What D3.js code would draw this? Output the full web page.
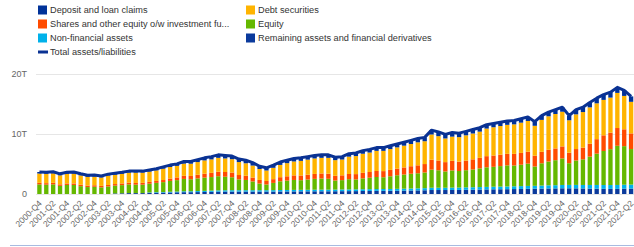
<!DOCTYPE html>
<html>
<head>
<meta charset="utf-8">
<script src="https://cdn.jsdelivr.net/npm/d3@7"></script>
<style>
body{margin:0;background:#fff;}
svg{display:block;font-family:"Liberation Sans",Arial,sans-serif;}
</style>
</head>
<body>
<svg id="chart"></svg>
<script>
var quarters=["2000-Q4","2001-Q1","2001-Q2","2001-Q3","2001-Q4","2002-Q1","2002-Q2","2002-Q3","2002-Q4",
"2003-Q1","2003-Q2","2003-Q3","2003-Q4","2004-Q1","2004-Q2","2004-Q3","2004-Q4",
"2005-Q1","2005-Q2","2005-Q3","2005-Q4","2006-Q1","2006-Q2","2006-Q3","2006-Q4",
"2007-Q1","2007-Q2","2007-Q3","2007-Q4","2008-Q1","2008-Q2","2008-Q3","2008-Q4",
"2009-Q1","2009-Q2","2009-Q3","2009-Q4","2010-Q1","2010-Q2","2010-Q3","2010-Q4",
"2011-Q1","2011-Q2","2011-Q3","2011-Q4","2012-Q1","2012-Q2","2012-Q3","2012-Q4",
"2013-Q1","2013-Q2","2013-Q3","2013-Q4","2014-Q1","2014-Q2","2014-Q3","2014-Q4",
"2015-Q1","2015-Q2","2015-Q3","2015-Q4","2016-Q1","2016-Q2","2016-Q3","2016-Q4",
"2017-Q1","2017-Q2","2017-Q3","2017-Q4","2018-Q1","2018-Q2","2018-Q3","2018-Q4",
"2019-Q1","2019-Q2","2019-Q3","2019-Q4","2020-Q1","2020-Q2","2020-Q3","2020-Q4",
"2021-Q1","2021-Q2","2021-Q3","2021-Q4","2022-Q1","2022-Q2"];

// trillions
var remaining=[0,0,0,0,0,0,0,0,0,0,0,0.10,0.12,0.15,0.15,0.15,0.18,0.20,0.22,0.25,0.28,0.30,0.30,0.32,0.34,
0.36,0.38,0.40,0.40,0.40,0.40,0.40,0.40,0.40,0.40,0.42,0.42,0.43,0.44,0.44,0.45,0.45,0.45,0.46,0.47,0.48,0.48,
0.50,0.50,0.52,0.52,0.53,0.54,0.56,0.58,0.60,0.62,0.66,0.66,0.66,0.67,0.68,0.70,0.72,0.74,0.76,0.78,0.79,0.80,
0.82,0.84,0.86,0.88,0.90,0.92,0.93,0.95,0.95,0.94,0.92,0.90,0.88,0.86,0.85,0.85,0.88,0.90];
var nonFinancial=[0,0,0,0,0,0,0,0,0,0,0,0,0,0,0,0,0.08,0.10,0.10,0.12,0.12,0.15,0.15,0.17,0.18,
0.20,0.22,0.22,0.23,0.23,0.23,0.23,0.23,0.23,0.24,0.24,0.25,0.25,0.25,0.26,0.26,0.27,0.27,0.27,0.28,0.28,0.29,
0.29,0.30,0.30,0.31,0.31,0.32,0.32,0.33,0.34,0.35,0.38,0.38,0.38,0.39,0.39,0.40,0.40,0.41,0.42,0.43,0.44,0.45,
0.46,0.47,0.48,0.48,0.50,0.52,0.53,0.55,0.56,0.57,0.58,0.60,0.62,0.63,0.64,0.65,0.66,0.66];
var equity=[1.60,1.55,1.60,1.35,1.50,1.50,1.30,1.15,1.20,1.10,1.25,1.30,1.35,1.45,1.40,1.40,1.45,1.55,1.65,1.80,1.90,
2.05,2.00,2.10,2.20,2.25,2.35,2.25,2.15,1.80,1.70,1.45,1.10,0.95,1.20,1.45,1.55,1.65,1.60,1.70,1.80,1.85,1.80,
1.50,1.55,1.70,1.65,1.80,1.90,2.00,1.95,2.10,2.25,2.35,2.45,2.50,2.60,3.00,2.90,2.70,2.85,2.75,2.85,2.95,3.10,
3.25,3.30,3.40,3.50,3.45,3.55,3.70,3.20,3.70,3.95,4.15,4.40,3.60,4.05,4.25,4.70,5.20,5.65,5.95,6.50,6.40,5.90];
var shares=[0.25,0.25,0.25,0.25,0.25,0.25,0.25,0.25,0.25,0.25,0.25,0.25,0.28,0.28,0.28,0.30,0.30,0.32,0.35,0.40,0.45,
0.52,0.55,0.60,0.65,0.70,0.75,0.78,0.78,0.72,0.70,0.65,0.60,0.58,0.62,0.68,0.72,0.76,0.78,0.80,0.82,0.84,0.85,
0.80,0.80,0.86,0.88,0.92,0.95,1.00,1.02,1.06,1.10,1.18,1.25,1.32,1.40,1.65,1.62,1.55,1.60,1.55,1.60,1.68,1.75,
1.85,1.88,1.90,1.92,1.93,1.96,1.98,1.80,1.90,1.95,1.95,2.00,1.75,1.90,1.95,2.15,2.40,2.60,2.75,2.95,2.80,2.60];
var debt=[1.55,1.55,1.60,1.50,1.60,1.65,1.55,1.45,1.45,1.40,1.55,1.55,1.60,1.67,1.72,1.70,1.72,1.75,1.88,1.91,1.92,
2.02,2.02,2.11,2.20,2.23,2.30,2.25,2.22,2.15,2.07,1.99,1.82,1.74,1.89,2.04,2.18,2.31,2.43,2.50,2.57,2.59,2.63,
2.59,2.62,2.88,3.00,3.17,3.23,3.34,3.36,3.45,3.53,3.61,3.69,3.82,3.79,4.19,4.04,3.93,4.01,4.07,4.19,4.29,4.35,
4.58,4.69,4.75,4.81,4.90,5.02,5.10,4.96,5.30,5.56,5.72,5.76,5.38,5.76,5.90,6.03,5.95,5.88,5.81,5.83,5.54,5.24];
var deposits=[0.25,0.25,0.25,0.25,0.25,0.25,0.25,0.25,0.25,0.25,0.25,0.25,0.25,0.25,0.25,0.25,0.27,0.28,0.30,0.32,0.33,
0.36,0.38,0.40,0.43,0.46,0.50,0.50,0.52,0.50,0.50,0.48,0.45,0.45,0.45,0.47,0.48,0.50,0.50,0.50,0.50,0.50,0.50,
0.48,0.48,0.50,0.50,0.52,0.52,0.54,0.54,0.55,0.56,0.58,0.60,0.62,0.64,0.72,0.70,0.68,0.68,0.66,0.66,0.66,0.65,
0.64,0.62,0.62,0.62,0.64,0.66,0.68,0.68,0.70,0.70,0.72,0.74,0.76,0.78,0.80,0.82,0.85,0.88,0.90,0.92,0.92,0.90];
var total=[3.65,3.60,3.70,3.35,3.60,3.65,3.35,3.10,3.15,3.00,3.30,3.45,3.60,3.80,3.80,3.80,4.00,4.20,4.50,4.80,5.00,
5.40,5.40,5.70,6.00,6.20,6.50,6.40,6.30,5.80,5.60,5.20,4.60,4.35,4.80,5.30,5.60,5.90,6.00,6.20,6.40,6.50,6.50,
6.10,6.20,6.70,6.80,7.20,7.40,7.70,7.70,8.00,8.30,8.60,8.90,9.20,9.40,10.60,10.30,9.90,10.20,10.10,10.40,10.70,11.00,
11.50,11.70,11.90,12.10,12.20,12.50,12.80,12.00,13.00,13.60,14.00,14.40,13.00,14.00,14.40,15.20,15.90,16.50,16.90,17.70,17.20,16.20];
var yTicks=[0,10,20];

var seriesNames=["Deposit and loan claims","Debt securities","Shares and other equity o/w investment fu...","Equity","Non-financial assets","Remaining assets and financial derivatives"];
var colors={"Deposit and loan claims":"#003299","Debt securities":"#FFB400","Shares and other equity o/w investment fu...":"#FF4B00",
"Equity":"#65B800","Non-financial assets":"#00B1EA","Remaining assets and financial derivatives":"#0B3A9C"};

var width=634,height=247;
var svg=d3.select('#chart').attr('width',width).attr('height',height);

// table for the stack, bottom to top
var rows=quarters.map(function(q,i){
  return {q:q,
    "Remaining assets and financial derivatives":remaining[i],
    "Non-financial assets":nonFinancial[i],
    "Equity":equity[i],
    "Shares and other equity o/w investment fu...":shares[i],
    "Debt securities":debt[i],
    "Deposit and loan claims":deposits[i]};
});
var stackKeys=["Remaining assets and financial derivatives","Non-financial assets","Equity",
  "Shares and other equity o/w investment fu...","Debt securities","Deposit and loan claims"];
var stacked=d3.stack().keys(stackKeys)(rows);

var x=d3.scaleBand().domain(quarters).range([36,634.5]).paddingInner(0.37).paddingOuter(0.18);
var y=d3.scaleLinear().domain([0,20]).range([194,73.5]);

// grid
svg.append('g').selectAll('line').data(yTicks).enter().append('line')
  .attr('x1',36).attr('x2',width)
  .attr('y1',d=>Math.round(y(d))+0.5).attr('y2',d=>Math.round(y(d))+0.5)
  .attr('stroke','#e6e6e6').attr('stroke-width',1);

svg.append('g').selectAll('text').data(yTicks).enter().append('text')
  .attr('x',27).attr('y',d=>y(d)+3)
  .attr('text-anchor','end').attr('font-size','9px').attr('fill','#666')
  .text(d=>d===0?'0':d+'T');

// bars
svg.append('g').selectAll('g').data(stacked).enter().append('g')
  .attr('fill',d=>colors[d.key])
  .selectAll('rect').data(d=>d).enter().append('rect')
  .attr('x',d=>x(d.data.q))
  .attr('width',x.bandwidth())
  .attr('y',d=>y(d[1]))
  .attr('height',d=>Math.max(0,y(d[0])-y(d[1])));

// total line
var line=d3.line().x((d,i)=>x(quarters[i])+x.bandwidth()/2).y(d=>y(d));
svg.append('path').datum(total)
  .attr('d',line).attr('fill','none')
  .attr('stroke','#0a3293').attr('stroke-width',3).attr('stroke-linejoin','round');

// x labels, every 2 quarters
var labelled=quarters.filter((q,i)=>i%2===0);
svg.append('g').selectAll('text').data(labelled).enter().append('text')
  .attr('transform',d=>{
    var px=x(d)+x.bandwidth()/2+3, py=204;
    return 'translate('+px+','+py+') rotate(-45)';
  })
  .attr('text-anchor','end').attr('font-size','8.5px').attr('fill','#666')
  .text(d=>d);

// bottom rule
svg.append('line').attr('x1',10).attr('x2',width).attr('y1',245.5).attr('y2',245.5)
  .attr('stroke','#a8bbe0').attr('stroke-width',1);

// legend
var legend=svg.append('g').attr('font-size','9.2px').attr('fill','#333');
seriesNames.forEach(function(name,i){
  var col=i%2,row=Math.floor(i/2);
  var lx=col===0?38:246, ly=10+row*14;
  legend.append('rect').attr('x',lx).attr('y',ly-4.5).attr('width',9).attr('height',9).attr('fill',colors[name]);
  legend.append('text').attr('x',lx+12).attr('y',ly+3.3).text(name);
});
legend.append('rect').attr('x',38).attr('y',50.5).attr('width',10).attr('height',3).attr('fill','#0a3293');
legend.append('text').attr('x',50).attr('y',55.3).text('Total assets/liabilities');
</script>
</body>
</html>
